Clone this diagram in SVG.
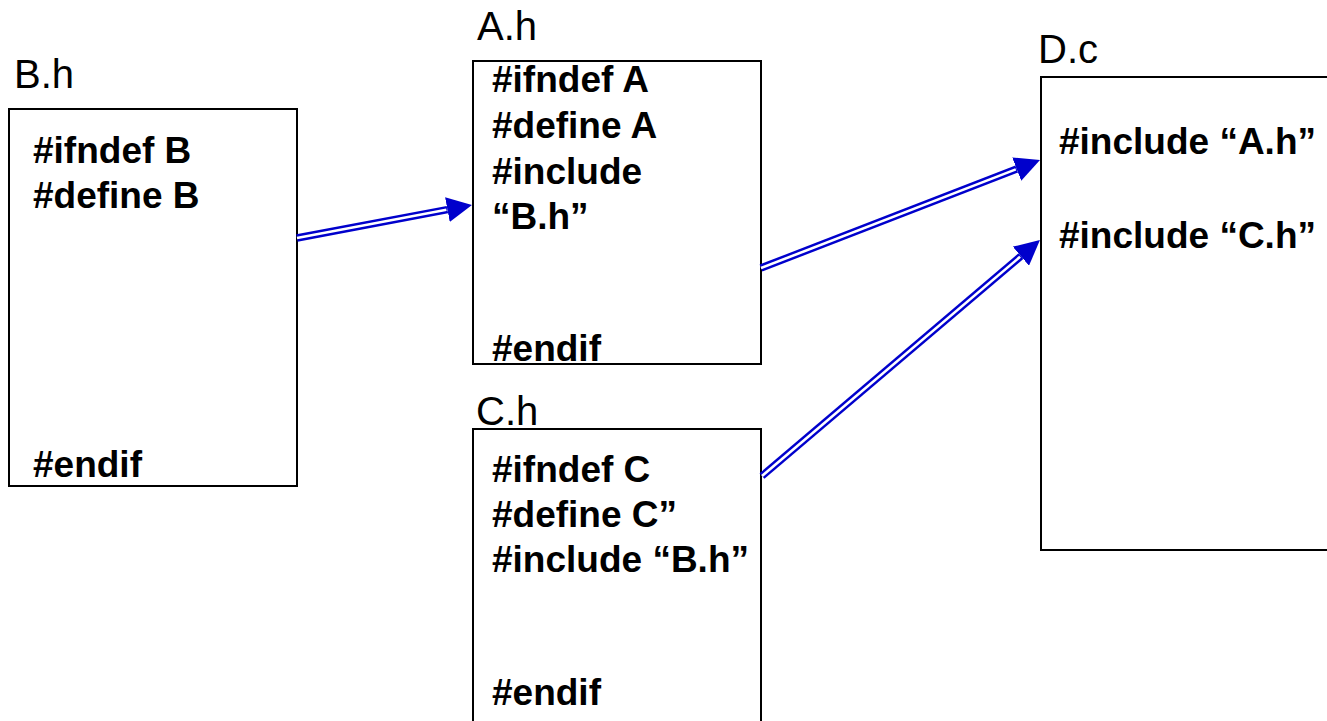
<svg xmlns="http://www.w3.org/2000/svg" width="1327" height="721" viewBox="0 0 1327 721">
  <style>
    .box { fill: #ffffff; stroke: #000000; stroke-width: 2; }
    .title { font-family: "Liberation Sans", Arial, sans-serif; font-size: 40px; fill: #000000; }
    .code { font-family: "Liberation Sans", Arial, sans-serif; font-size: 37px; font-weight: bold; fill: #000000; }
    .wire { fill: none; stroke: #0000cc; stroke-width: 7.5; }
    .gap { fill: none; stroke: #ffffff; stroke-width: 2.6; }
  </style>
  <defs>
    <marker id="head" viewBox="0 0 25 25" refX="0" refY="12.5" markerWidth="25" markerHeight="25" markerUnits="userSpaceOnUse" orient="auto">
      <path d="M0,0 L25,12.5 L0,25 z" fill="#0000cc"/>
    </marker>
  </defs>
  <rect width="1327" height="721" fill="#ffffff"/>

  <g id="node-B">
    <text class="title" x="14" y="88">B.h</text>
    <rect class="box" x="9" y="109" width="288" height="377"/>
    <text class="code" x="33" y="163">#ifndef B</text>
    <text class="code" x="33" y="208">#define B</text>
    <text class="code" x="33" y="477">#endif</text>
  </g>

  <g id="node-A">
    <text class="title" x="477" y="40">A.h</text>
    <rect class="box" x="473" y="61" width="288" height="303"/>
    <text class="code" x="492" y="92">#ifndef A</text>
    <text class="code" x="492" y="138">#define A</text>
    <text class="code" x="492" y="184">#include</text>
    <text class="code" x="492" y="229">“B.h”</text>
    <text class="code" x="492" y="361">#endif</text>
  </g>

  <g id="node-C">
    <text class="title" x="476" y="425">C.h</text>
    <rect class="box" x="473" y="429" width="288" height="310"/>
    <text class="code" x="492" y="482">#ifndef C</text>
    <text class="code" x="492" y="527">#define C”</text>
    <text class="code" x="492" y="572">#include “B.h”</text>
    <text class="code" x="492" y="705">#endif</text>
  </g>

  <g id="node-D">
    <text class="title" x="1038" y="63">D.c</text>
    <rect class="box" x="1041" y="77" width="310" height="473"/>
    <text class="code" x="1059" y="154">#include “A.h”</text>
    <text class="code" x="1059" y="248">#include “C.h”</text>
  </g>

  <!-- double-line include arrows -->
  <g id="connectors">
    <path class="wire" d="M297,238 L447.4,209.6" marker-end="url(#head)"/>
    <path class="gap" d="M297,238 L446.4,209.8"/>
    <path class="wire" d="M761,268 L1016.7,169.1" marker-end="url(#head)"/>
    <path class="gap" d="M761,268 L1015.8,169.4"/>
    <path class="wire" d="M762,476 L1020.9,256.2" marker-end="url(#head)"/>
    <path class="gap" d="M762,476 L1020.1,256.8"/>
  </g>
</svg>
